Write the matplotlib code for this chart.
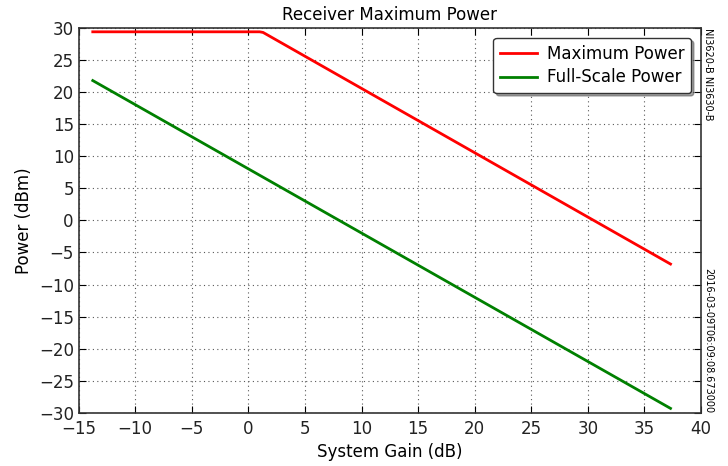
import matplotlib
matplotlib.use('Agg')
import matplotlib.pyplot as plt

# values
gain_max = [-13.75, 1.0, 1.3, 1.6, 37.3]
power_max = [29.4, 29.4, 29.3, 29.0, -6.8]
gain_fs = [-13.75, 37.3]
power_fs = [21.8, -29.3]
x_ticks = [-15, -10, -5, 0, 5, 10, 15, 20, 25, 30, 35, 40]
y_ticks = [-30, -25, -20, -15, -10, -5, 0, 5, 10, 15, 20, 25, 30]

plt.rcParams['font.family'] = 'DejaVu Sans'

fig = plt.figure(figsize=(7.28, 4.66), dpi=100)
ax = fig.add_axes([0.108, 0.114, 0.855, 0.826])

ax.plot(gain_max, power_max, color='red', lw=2, label='Maximum Power')
ax.plot(gain_fs, power_fs, color='green', lw=2, label='Full-Scale Power')

ax.set_xlim(-15, 40)
ax.set_ylim(-30, 30)
ax.set_xticks(x_ticks)
ax.set_yticks(y_ticks)
ax.tick_params(direction='in', top=True, right=True, labelsize=12, length=5,
               labelcolor='#222222')
ax.tick_params(axis='x', pad=5)
ax.grid(True, color='0.35', linestyle=(0, (1, 3)), linewidth=0.8)
for s in ax.spines.values():
    s.set_linewidth(1.2)
    s.set_color('#333333')

ax.set_title('Receiver Maximum Power', fontsize=12, pad=6)
ax.set_xlabel('System Gain (dB)', fontsize=12)
ax.set_ylabel('Power (dBm)', fontsize=12)

leg = ax.legend(loc='upper right', fontsize=12, fancybox=True, shadow=True,
                framealpha=1, borderaxespad=0.6, handlelength=2.2,
                handletextpad=0.6, labelspacing=0.35)
leg.get_frame().set_edgecolor('#333333')

fig.text(0.966, 0.94, 'NI3620-B NI3630-B', rotation=-90, fontsize=7,
         va='top', ha='left')
fig.text(0.966, 0.114, '2016-03-09T06:09:08.673000', rotation=-90, fontsize=7,
         va='bottom', ha='left')

fig.savefig('out.png', dpi=100)
